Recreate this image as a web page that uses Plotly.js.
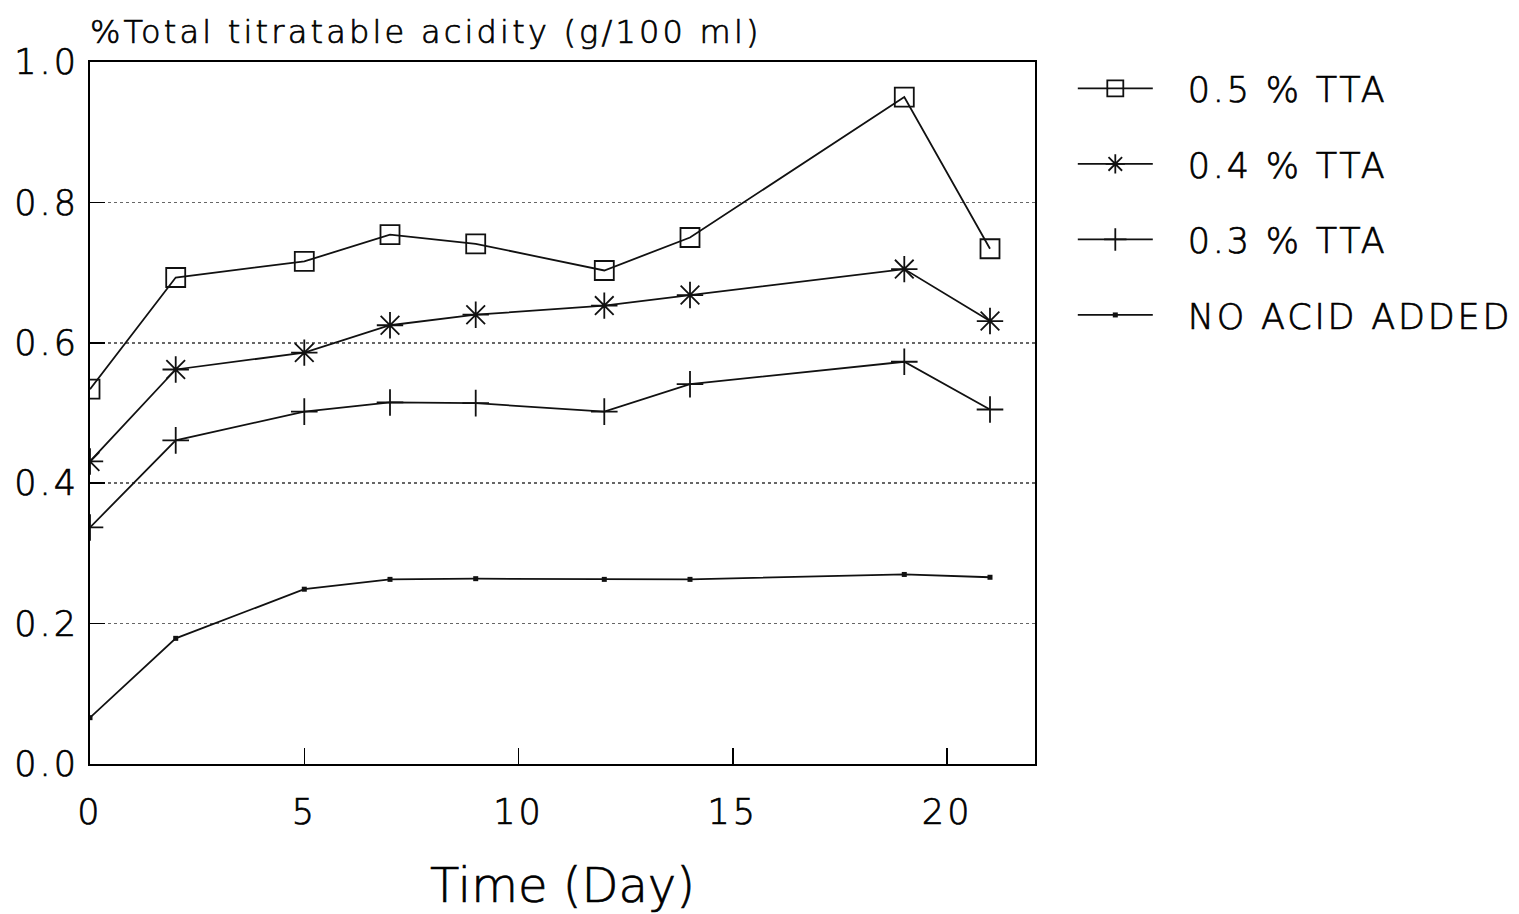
<!DOCTYPE html>
<html>
<head>
<meta charset="utf-8">
<script src="https://cdn.plot.ly/plotly-3.0.1.min.js"></script>
<style>
html,body{margin:0;padding:0;background:#fff;}
#chart{width:1519px;height:914px;}
.main-svg text{stroke:#000;stroke-width:0.7px;}
.gtitle{letter-spacing:3.2px;}
.xtick text,.ytick text{letter-spacing:3px;}
.legendtext{letter-spacing:2.8px;transform:translateX(30px);}
.legend .scrollbox{clip-path:none !important;}
</style>
</head>
<body>
<div id="chart"></div>
<script>
const days = [0, 2, 5, 7, 9, 12, 14, 19, 21];
const tta05 = [0.534, 0.693, 0.716, 0.754, 0.741, 0.703, 0.750, 0.950, 0.734];
const tta04 = [0.431, 0.562, 0.586, 0.625, 0.640, 0.653, 0.668, 0.705, 0.631];
const tta03 = [0.337, 0.461, 0.502, 0.515, 0.514, 0.502, 0.541, 0.573, 0.505];
const noAcid = [0.066, 0.179, 0.249, 0.263, 0.264, 0.263, 0.263, 0.270, 0.266];
const seriesNames = ['0.5 % TTA', '0.4 % TTA', '0.3 % TTA', 'NO ACID ADDED'];
const xTicks = [0, 5, 10, 15, 20];
const yTicks = [0.0, 0.2, 0.4, 0.6, 0.8, 1.0];
const yTickText = ['0.0', '0.2', '0.4', '0.6', '0.8', '1.0'];

const FONT = 'DejaVu Sans, Liberation Sans, sans-serif';
const W = 200;
const ink = '#000';
const lineInk = '#111';

function tr(y, name, symbol, size, lw) {
  return {
    x: days, y: y, name: name, type: 'scatter', mode: 'lines+markers',
    legendgroup: name,
    line: {color: lineInk, width: 1.8},
    marker: {symbol: symbol, size: size, color: lineInk, line: {color: lineInk, width: lw}}
  };
}

const data = [
  tr(tta05, seriesNames[0], 'square-open', 19, 1.8),
  tr(tta04, seriesNames[1], 'asterisk-open', 22, 1.8),
  tr(tta03, seriesNames[2], 'cross-thin-open', 19, 1.8),
  tr(noAcid, seriesNames[3], 'square', 5, 0)
];

const layout = {
  width: 1519, height: 914,
  paper_bgcolor: '#fff', plot_bgcolor: '#fff',
  margin: {l: 90, r: 484, t: 62, b: 150},
  font: {family: FONT, color: ink, size: 30, weight: W},
  title: {
    text: '%Total titratable acidity (g/100 ml)',
    xref: 'container', yref: 'container',
    x: 90 / 1519, xanchor: 'left',
    y: 1 - 32 / 914, yanchor: 'middle',
    font: {family: FONT, size: 32, color: ink, weight: W}
  },
  xaxis: {
    range: [0, 22.05], tickvals: xTicks, ticktext: xTicks.map(String),
    ticks: 'inside', ticklen: 16, tickwidth: 1.5, tickcolor: ink,
    showline: true, mirror: true, linecolor: ink, linewidth: 2,
    showgrid: false, zeroline: false,
    ticklabelstandoff: 16,
    tickfont: {family: FONT, size: 35, color: ink, weight: W},
    title: {text: 'Time (Day)', font: {family: FONT, size: 48, color: ink, weight: W}, standoff: 37},
    automargin: false
  },
  yaxis: {
    range: [0, 1.0], tickvals: yTicks, ticktext: yTickText,
    ticks: 'inside', ticklen: 15, tickwidth: 1.5, tickcolor: ink,
    showline: true, mirror: true, linecolor: ink, linewidth: 2,
    showgrid: true, gridcolor: '#666', gridwidth: 1.5, griddash: 'dot',
    zeroline: false,
    ticklabelstandoff: 2,
    tickfont: {family: FONT, size: 35, color: ink, weight: W},
    automargin: false
  },
  showlegend: true,
  legend: {
    x: 1.04, xanchor: 'left', y: 1.004, yanchor: 'top',
    font: {family: FONT, size: 35, color: ink, weight: W},
    bgcolor: 'rgba(0,0,0,0)', borderwidth: 0,
    tracegroupgap: 27, itemwidth: 75, traceorder: 'grouped'
  }
};

Plotly.newPlot('chart', data, layout, {displayModeBar: false, staticPlot: true});
</script>
</body>
</html>
